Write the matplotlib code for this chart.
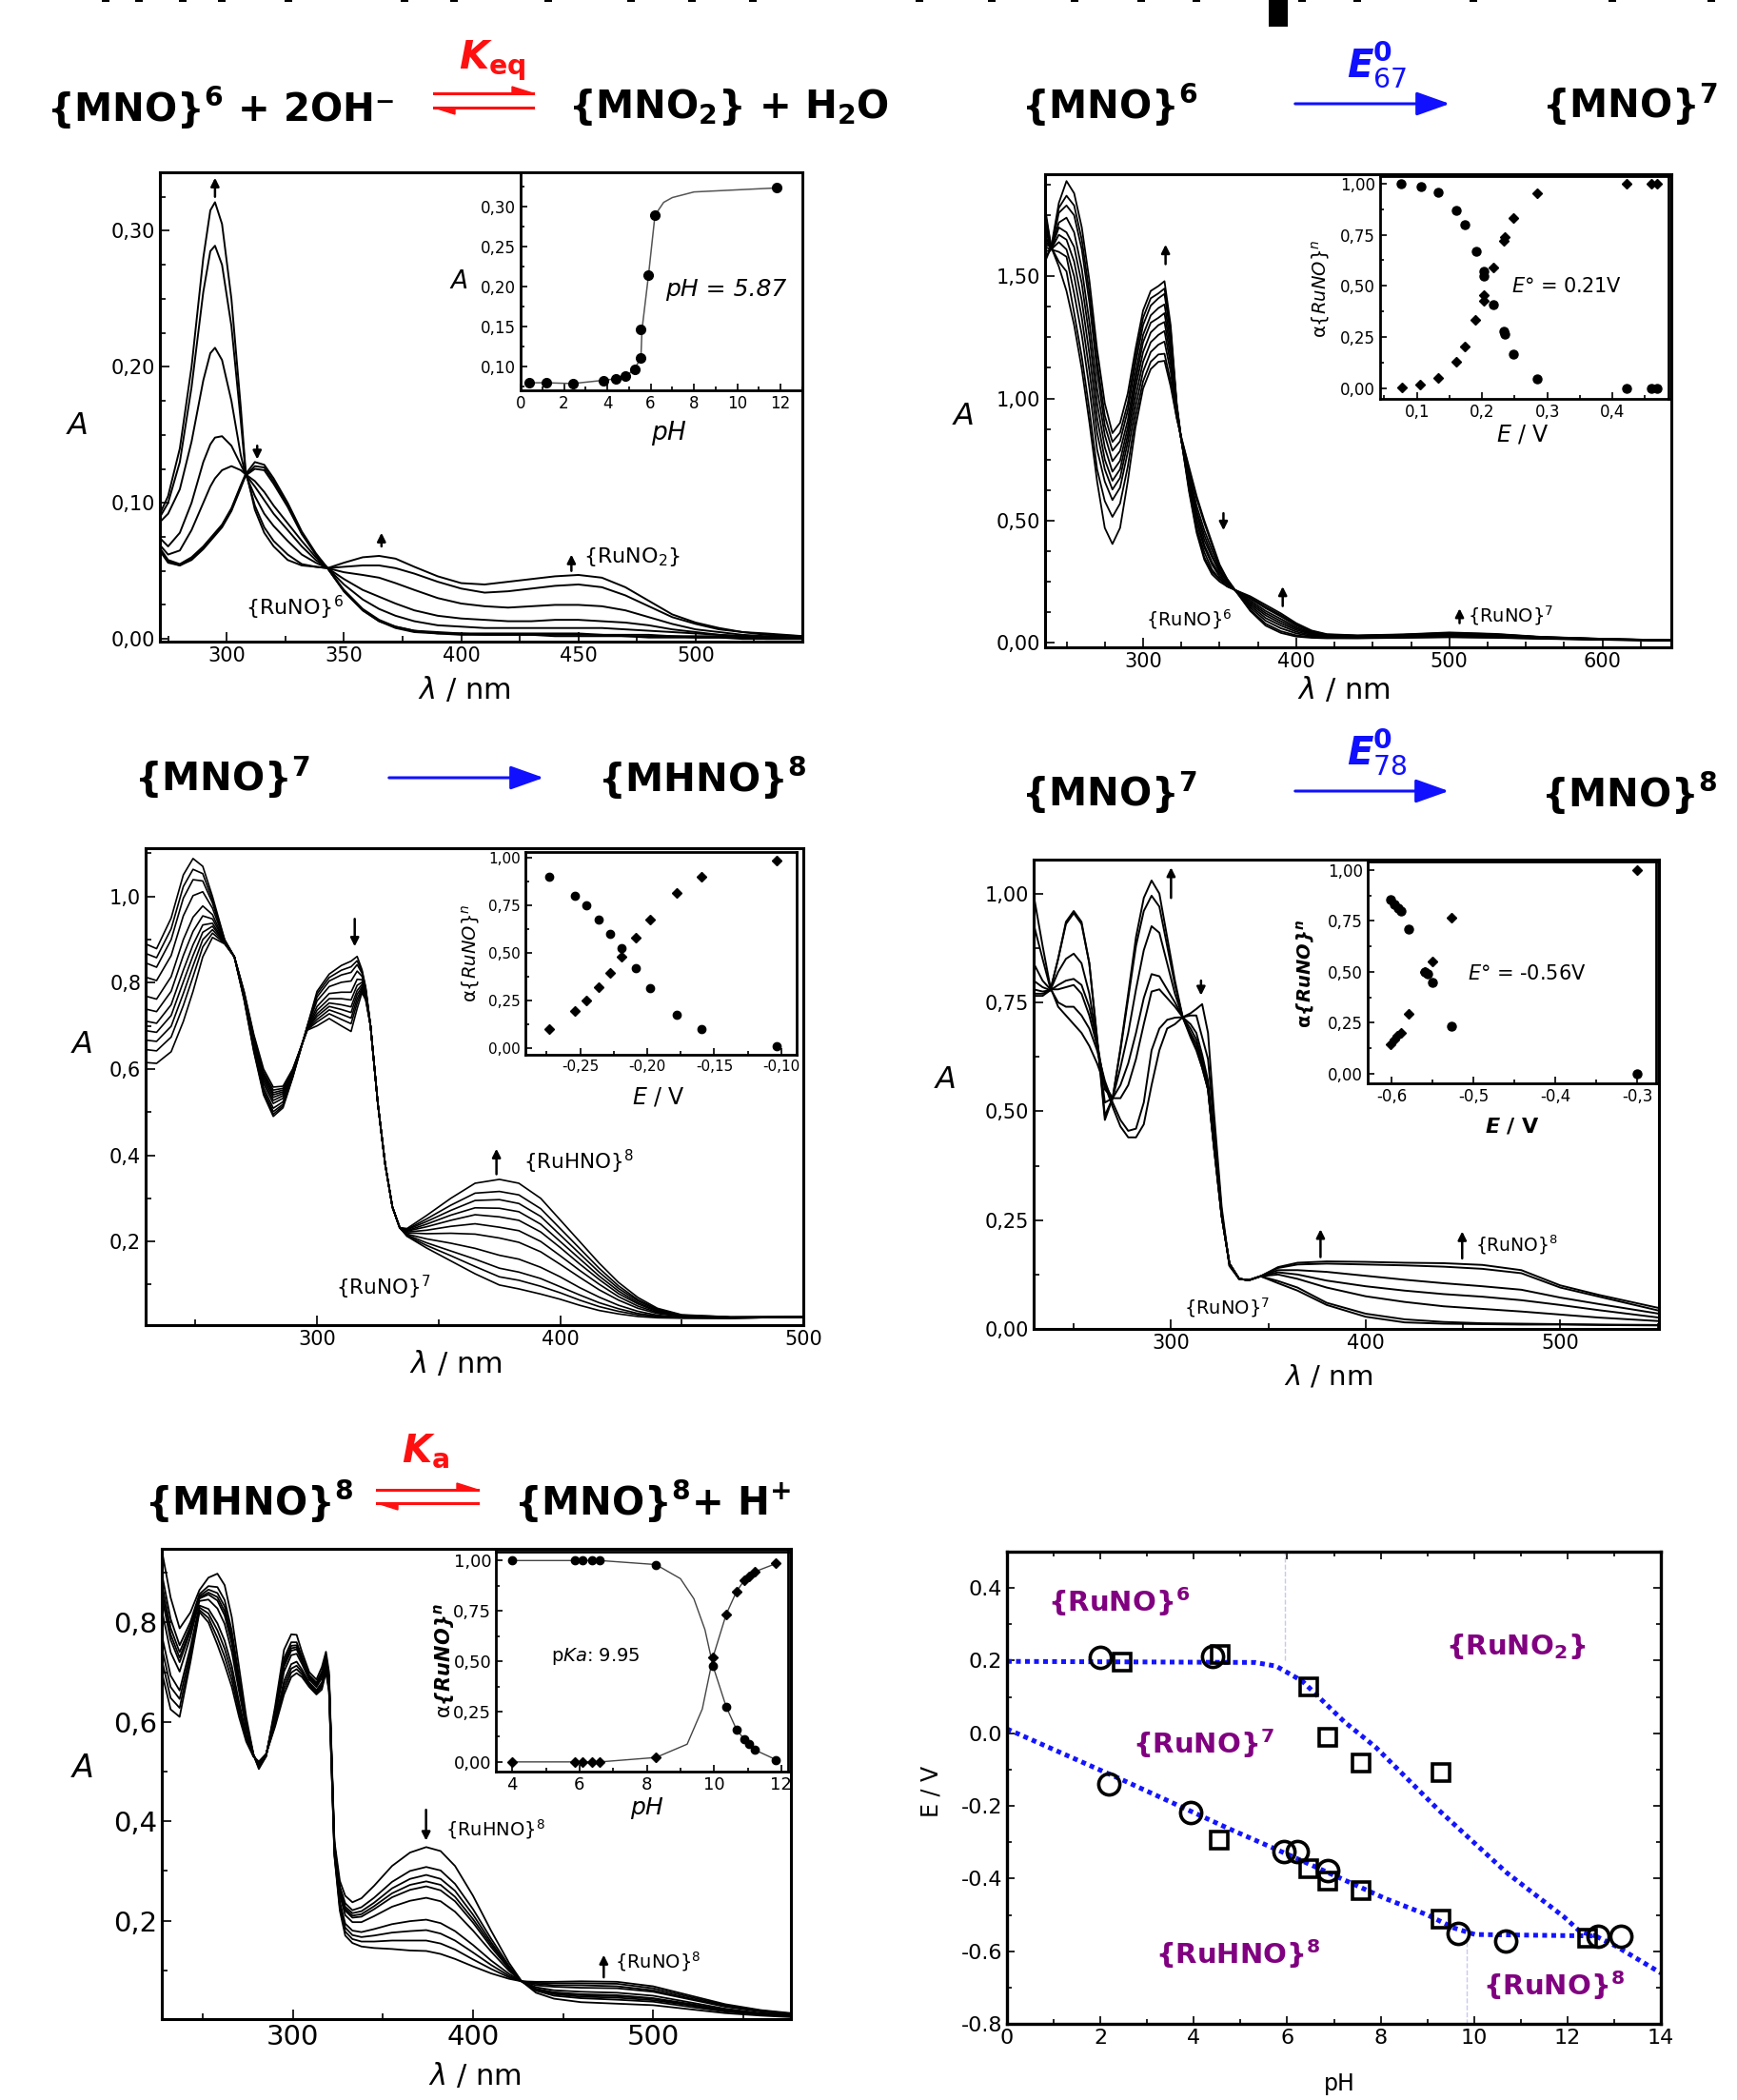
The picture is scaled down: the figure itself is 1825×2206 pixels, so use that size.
import numpy as np
import matplotlib
matplotlib.use("Agg")
import matplotlib.pyplot as plt
from matplotlib.ticker import MultipleLocator, FuncFormatter
from matplotlib.patches import Polygon, Rectangle, FancyArrowPatch
from matplotlib.lines import Line2D

plt.rcParams.update({
    "font.family": "DejaVu Sans",
    "mathtext.fontset": "custom",
    "mathtext.rm": "DejaVu Sans",
    "mathtext.it": "DejaVu Sans:italic",
    "mathtext.bf": "DejaVu Sans:bold",
    "mathtext.bfit": "DejaVu Sans:italic:bold",
    "axes.unicode_minus": False,
})

# ---------------- panel 1: {MNO}6 -> {MNO2} (pH titration) ----------------
wl_1 = [271, 275, 280, 285, 290, 293, 295, 298, 302, 306, 308, 312, 316, 320, 326, 332, 338, 343,
        350, 358, 365, 372, 380, 390, 400, 410, 420, 430, 440, 450, 460, 470, 480, 490, 500, 510,
        520, 530, 546]
# one row per wavelength, one column per spectrum
abs_1 = [
    [.090, .088, .085, .075, .070, .068, .067, .066],
    [.105, .100, .092, .068, .062, .058, .057, .056],
    [.140, .130, .110, .078, .065, .055, .054, .054],
    [.200, .185, .145, .100, .080, .060, .059, .058],
    [.280, .255, .190, .130, .100, .068, .067, .066],
    [.315, .285, .210, .143, .112, .074, .073, .072],
    [.321, .289, .214, .148, .118, .078, .077, .076],
    [.305, .275, .205, .149, .124, .084, .083, .082],
    [.250, .230, .175, .142, .127, .096, .095, .094],
    [.170, .160, .135, .128, .124, .113, .112, .111],
    [.125, .123, .121, .121, .121, .121, .120, .120],
    [.095, .098, .105, .112, .116, .130, .127, .125],
    [.078, .082, .092, .102, .108, .128, .126, .124],
    [.068, .072, .083, .092, .098, .118, .116, .114],
    [.058, .062, .072, .080, .085, .100, .098, .097],
    [.054, .055, .062, .068, .072, .079, .078, .077],
    [.053, .053, .056, .058, .060, .063, .062, .062],
    [.052, .052, .052, .052, .052, .052, .052, .052],
    [.056, .053, .049, .044, .040, .036, .035, .035],
    [.060, .054, .047, .036, .029, .022, .021, .021],
    [.061, .054, .045, .031, .022, .014, .013, .013],
    [.059, .052, .041, .026, .017, .009, .009, .008],
    [.053, .048, .036, .021, .013, .006, .006, .005],
    [.046, .042, .030, .017, .010, .005, .004, .004],
    [.041, .037, .026, .015, .009, .004, .004, .003],
    [.040, .034, .024, .014, .008, .004, .003, .003],
    [.042, .035, .023, .013, .008, .004, .003, .003],
    [.044, .037, .024, .013, .008, .004, .003, .003],
    [.046, .039, .025, .014, .008, .004, .003, .002],
    [.047, .040, .025, .014, .008, .004, .003, .002],
    [.045, .038, .024, .013, .008, .003, .003, .002],
    [.038, .032, .021, .012, .007, .003, .002, .002],
    [.028, .024, .016, .010, .006, .003, .002, .001],
    [.018, .016, .011, .007, .005, .002, .002, .001],
    [.012, .011, .007, .005, .004, .002, .001, .001],
    [.008, .007, .005, .003, .003, .002, .001, .001],
    [.005, .005, .003, .002, .002, .001, .001, .000],
    [.004, .003, .002, .001, .001, .001, .000, .000],
    [.002, .002, .001, .001, .001, .000, .000, .000],
]
ph_pts_1 = [0.4, 1.2, 2.4, 3.8, 4.4, 4.85, 5.25, 5.55, 5.55, 5.9, 6.2, 11.8]
a_pts_1 = [0.080, 0.080, 0.079, 0.083, 0.085, 0.088, 0.097, 0.111, 0.146, 0.214, 0.289, 0.323]
ph_fit_1 = [0.4, 1.2, 2.4, 3.8, 4.4, 4.85, 5.25, 5.55, 5.6, 5.9, 6.2, 6.6, 7.0, 8.0, 11.8]
a_fit_1 = [0.080, 0.080, 0.079, 0.083, 0.085, 0.088, 0.097, 0.111, 0.146, 0.214, 0.289, 0.305, 0.311, 0.318, 0.323]

# ---------------- panel 2: {MNO}6 -> {MNO}7 (potential) ----------------
wl_2 = [236, 240, 245, 250, 255, 260, 265, 270, 275, 280, 285, 290, 295, 300, 305, 310, 314, 318,
        322, 325, 330, 335, 340, 345, 350, 355, 360, 370, 380, 390, 400, 410, 420, 440, 470, 500,
        530, 560, 600, 645]
abs_2 = [
    [1.78, 1.76, 1.73, 1.70, 1.67, 1.65, 1.62, 1.60, 1.58, 1.56],
    [1.62, 1.62, 1.61, 1.61, 1.61, 1.61, 1.61, 1.61, 1.61, 1.62],
    [1.54, 1.56, 1.60, 1.64, 1.67, 1.70, 1.72, 1.76, 1.78, 1.80],
    [1.44, 1.52, 1.58, 1.61, 1.65, 1.68, 1.74, 1.79, 1.83, 1.89],
    [1.30, 1.35, 1.43, 1.50, 1.56, 1.62, 1.68, 1.75, 1.79, 1.84],
    [1.12, 1.17, 1.26, 1.33, 1.40, 1.47, 1.53, 1.61, 1.65, 1.70],
    [0.90, 0.95, 1.04, 1.11, 1.18, 1.25, 1.31, 1.39, 1.43, 1.48],
    [0.66, 0.71, 0.79, 0.86, 0.92, 0.98, 1.04, 1.11, 1.15, 1.20],
    [0.47, 0.58, 0.66, 0.71, 0.75, 0.80, 0.85, 0.89, 0.93, 0.98],
    [0.404, 0.515, 0.584, 0.627, 0.663, 0.70, 0.743, 0.786, 0.822, 0.858],
    [0.47, 0.57, 0.635, 0.675, 0.71, 0.745, 0.785, 0.825, 0.86, 0.90],
    [0.66, 0.72, 0.78, 0.82, 0.85, 0.88, 0.91, 0.95, 0.98, 1.02],
    [0.88, 0.92, 0.96, 1.00, 1.04, 1.07, 1.10, 1.14, 1.17, 1.20],
    [1.04, 1.07, 1.11, 1.15, 1.19, 1.23, 1.26, 1.30, 1.33, 1.36],
    [1.12, 1.15, 1.19, 1.23, 1.27, 1.31, 1.34, 1.38, 1.41, 1.44],
    [1.15, 1.18, 1.22, 1.26, 1.30, 1.33, 1.37, 1.41, 1.43, 1.46],
    [1.154, 1.183, 1.233, 1.276, 1.313, 1.349, 1.385, 1.428, 1.45, 1.48],
    [1.05, 1.07, 1.11, 1.14, 1.17, 1.20, 1.23, 1.26, 1.28, 1.30],
    [0.92, 0.92, 0.93, 0.94, 0.94, 0.95, 0.96, 0.97, 0.97, 0.98],
    [0.84, 0.84, 0.83, 0.83, 0.83, 0.83, 0.83, 0.83, 0.83, 0.83],
    [0.72, 0.71, 0.70, 0.68, 0.67, 0.66, 0.65, 0.64, 0.63, 0.62],
    [0.60, 0.59, 0.56, 0.54, 0.53, 0.51, 0.49, 0.47, 0.46, 0.45],
    [0.50, 0.49, 0.46, 0.44, 0.42, 0.40, 0.39, 0.37, 0.35, 0.34],
    [0.41, 0.40, 0.38, 0.36, 0.35, 0.33, 0.32, 0.30, 0.29, 0.28],
    [0.32, 0.31, 0.30, 0.29, 0.29, 0.28, 0.27, 0.26, 0.26, 0.25],
    [0.26, 0.26, 0.25, 0.25, 0.25, 0.24, 0.24, 0.24, 0.23, 0.23],
    [0.216, 0.216, 0.216, 0.216, 0.216, 0.216, 0.216, 0.216, 0.216, 0.216],
    [0.13, 0.135, 0.144, 0.152, 0.159, 0.166, 0.173, 0.18, 0.185, 0.19],
    [0.07, 0.078, 0.09, 0.101, 0.112, 0.121, 0.13, 0.141, 0.147, 0.155],
    [0.04, 0.047, 0.059, 0.07, 0.079, 0.088, 0.097, 0.107, 0.113, 0.12],
    [0.025, 0.03, 0.038, 0.045, 0.052, 0.058, 0.064, 0.071, 0.075, 0.08],
    [0.02, 0.023, 0.027, 0.031, 0.035, 0.038, 0.041, 0.045, 0.047, 0.05],
    [0.018, 0.02, 0.022, 0.024, 0.026, 0.028, 0.03, 0.032, 0.033, 0.035],
    [0.018, 0.019, 0.021, 0.022, 0.024, 0.025, 0.026, 0.028, 0.029, 0.03],
    [0.02, 0.021, 0.023, 0.025, 0.027, 0.028, 0.03, 0.032, 0.033, 0.034],
    [0.022, 0.024, 0.027, 0.029, 0.032, 0.034, 0.036, 0.039, 0.04, 0.042],
    [0.02, 0.021, 0.024, 0.026, 0.028, 0.03, 0.031, 0.033, 0.035, 0.036],
    [0.016, 0.017, 0.018, 0.019, 0.02, 0.021, 0.022, 0.023, 0.023, 0.024],
    [0.012, 0.012, 0.013, 0.013, 0.014, 0.014, 0.015, 0.015, 0.016, 0.016],
    [0.008, 0.008, 0.009, 0.009, 0.009, 0.009, 0.01, 0.01, 0.01, 0.01],
]
e_circ_2 = [0.076, 0.106, 0.133, 0.161, 0.174, 0.191, 0.202, 0.203, 0.217, 0.234, 0.235, 0.248, 0.284, 0.422, 0.460, 0.468]
f_circ_2 = [1.00, 0.987, 0.955, 0.870, 0.801, 0.668, 0.573, 0.548, 0.409, 0.280, 0.262, 0.168, 0.047, 0.0, 0.0, 0.0]
e_diam_2 = [0.077, 0.105, 0.132, 0.161, 0.174, 0.190, 0.202, 0.203, 0.218, 0.234, 0.235, 0.248, 0.284, 0.422, 0.460, 0.468]
f_diam_2 = [0.003, 0.017, 0.052, 0.130, 0.202, 0.332, 0.427, 0.453, 0.591, 0.720, 0.739, 0.833, 0.950, 1.0, 1.0, 1.0]

# ---------------- panel 3: {MNO}7 -> {MHNO}8 ----------------
wl_3 = [229.5, 234, 240, 245, 249, 253, 257, 262, 266, 270, 274, 278, 282, 286, 290, 296, 300, 305,
        310, 314, 316.5, 318.5, 320, 322, 325, 328, 331, 334, 337, 345, 355, 365, 375, 383, 392,
        400, 408, 416, 424, 432, 440, 450, 470, 500]
abs_3 = [
    [0.89, 0.868, 0.846, 0.813, 0.769, 0.739, 0.711, 0.689, 0.667, 0.645, 0.615],
    [0.879, 0.858, 0.836, 0.805, 0.762, 0.733, 0.706, 0.685, 0.664, 0.642, 0.613],
    [0.95, 0.925, 0.90, 0.863, 0.814, 0.78, 0.749, 0.724, 0.699, 0.674, 0.64],
    [1.05, 1.023, 0.996, 0.955, 0.90, 0.863, 0.829, 0.802, 0.775, 0.747, 0.71],
    [1.088, 1.063, 1.039, 1.002, 0.952, 0.919, 0.888, 0.863, 0.839, 0.814, 0.78],
    [1.07, 1.053, 1.036, 1.011, 0.978, 0.955, 0.934, 0.917, 0.90, 0.883, 0.86],
    [1.00, 0.992, 0.985, 0.973, 0.958, 0.948, 0.938, 0.931, 0.923, 0.915, 0.905],
    [0.90, 0.899, 0.898, 0.897, 0.896, 0.895, 0.894, 0.893, 0.892, 0.891, 0.89],
    [0.86, 0.86, 0.86, 0.86, 0.86, 0.86, 0.86, 0.86, 0.86, 0.86, 0.86],
    [0.76, 0.762, 0.763, 0.766, 0.769, 0.771, 0.773, 0.775, 0.776, 0.778, 0.78],
    [0.64, 0.643, 0.646, 0.651, 0.658, 0.662, 0.666, 0.669, 0.672, 0.676, 0.68],
    [0.54, 0.545, 0.55, 0.557, 0.566, 0.573, 0.579, 0.584, 0.589, 0.593, 0.60],
    [0.49, 0.495, 0.501, 0.509, 0.52, 0.527, 0.534, 0.54, 0.545, 0.551, 0.558],
    [0.51, 0.514, 0.518, 0.524, 0.532, 0.538, 0.543, 0.547, 0.551, 0.555, 0.56],
    [0.58, 0.582, 0.583, 0.586, 0.589, 0.591, 0.593, 0.595, 0.596, 0.598, 0.60],
    [0.70, 0.699, 0.698, 0.697, 0.696, 0.695, 0.694, 0.693, 0.692, 0.691, 0.69],
    [0.78, 0.774, 0.767, 0.758, 0.745, 0.736, 0.728, 0.722, 0.715, 0.709, 0.70],
    [0.82, 0.812, 0.804, 0.791, 0.775, 0.763, 0.753, 0.745, 0.737, 0.728, 0.717],
    [0.84, 0.829, 0.818, 0.801, 0.778, 0.763, 0.749, 0.738, 0.727, 0.715, 0.70],
    [0.85, 0.837, 0.824, 0.804, 0.778, 0.76, 0.744, 0.731, 0.718, 0.705, 0.687],
    [0.861, 0.851, 0.842, 0.827, 0.808, 0.794, 0.782, 0.773, 0.763, 0.753, 0.74],
    [0.83, 0.826, 0.822, 0.815, 0.807, 0.801, 0.796, 0.791, 0.787, 0.783, 0.777],
    [0.79, 0.788, 0.785, 0.782, 0.777, 0.774, 0.771, 0.768, 0.766, 0.763, 0.76],
    [0.70, 0.70, 0.70, 0.70, 0.70, 0.70, 0.70, 0.70, 0.70, 0.70, 0.70],
    [0.52, 0.52, 0.52, 0.52, 0.52, 0.52, 0.52, 0.52, 0.52, 0.52, 0.52],
    [0.38, 0.38, 0.38, 0.38, 0.38, 0.38, 0.38, 0.38, 0.38, 0.38, 0.38],
    [0.28, 0.28, 0.28, 0.28, 0.28, 0.28, 0.28, 0.28, 0.28, 0.28, 0.28],
    [0.232, 0.232, 0.232, 0.232, 0.232, 0.232, 0.232, 0.232, 0.232, 0.232, 0.232],
    [0.212, 0.213, 0.215, 0.217, 0.22, 0.222, 0.224, 0.225, 0.227, 0.228, 0.23],
    [0.185, 0.191, 0.197, 0.206, 0.218, 0.226, 0.234, 0.24, 0.246, 0.252, 0.26],
    [0.155, 0.167, 0.178, 0.196, 0.219, 0.235, 0.249, 0.261, 0.272, 0.284, 0.30],
    [0.125, 0.142, 0.159, 0.184, 0.217, 0.241, 0.262, 0.278, 0.295, 0.312, 0.335],
    [0.099, 0.118, 0.138, 0.168, 0.208, 0.233, 0.257, 0.277, 0.297, 0.316, 0.344],
    [0.09, 0.11, 0.129, 0.159, 0.198, 0.225, 0.249, 0.269, 0.288, 0.308, 0.335],
    [0.078, 0.096, 0.114, 0.14, 0.176, 0.2, 0.222, 0.24, 0.258, 0.276, 0.30],
    [0.066, 0.081, 0.095, 0.118, 0.147, 0.167, 0.186, 0.2, 0.215, 0.23, 0.25],
    [0.052, 0.064, 0.076, 0.093, 0.117, 0.133, 0.148, 0.16, 0.172, 0.184, 0.20],
    [0.04, 0.049, 0.058, 0.071, 0.088, 0.101, 0.112, 0.12, 0.129, 0.138, 0.15],
    [0.032, 0.038, 0.044, 0.052, 0.064, 0.072, 0.079, 0.085, 0.091, 0.097, 0.105],
    [0.026, 0.03, 0.033, 0.038, 0.045, 0.05, 0.055, 0.058, 0.062, 0.065, 0.07],
    [0.023, 0.025, 0.027, 0.029, 0.033, 0.035, 0.037, 0.039, 0.041, 0.043, 0.045],
    [0.022, 0.023, 0.023, 0.024, 0.026, 0.026, 0.027, 0.028, 0.028, 0.029, 0.03],
    [0.022, 0.022, 0.022, 0.023, 0.023, 0.024, 0.024, 0.024, 0.024, 0.025, 0.025],
    [0.025, 0.025, 0.025, 0.025, 0.025, 0.025, 0.025, 0.025, 0.025, 0.025, 0.025],
]
e_pts_3 = [-0.2732, -0.2541, -0.2455, -0.2361, -0.228, -0.2194, -0.2088, -0.1978, -0.1783, -0.1595, -0.1033]
f_circ_3 = [0.898, 0.802, 0.751, 0.673, 0.601, 0.523, 0.419, 0.318, 0.178, 0.100, 0.011]
f_diam_3 = [0.100, 0.196, 0.249, 0.323, 0.394, 0.479, 0.579, 0.677, 0.817, 0.898, 0.984]

# ---------------- panel 4: {MNO}7 -> {MNO}8 ----------------
wl_4 = [229.4, 234, 238, 242, 246, 250, 254, 258, 262, 266, 270, 274, 278, 282, 286, 290, 294, 298,
        302, 306, 310, 313, 316, 319, 322, 326, 330, 335, 340, 346, 355, 365, 380, 400, 420, 440,
        460, 480, 500, 520, 550.7]
abs_4 = [
    [0.997, 0.93, 0.84, 0.80, 0.78, 0.77, 0.765],
    [0.88, 0.85, 0.80, 0.785, 0.775, 0.77, 0.765],
    [0.785, 0.782, 0.78, 0.778, 0.778, 0.778, 0.778],
    [0.74, 0.75, 0.78, 0.79, 0.82, 0.85, 0.85],
    [0.72, 0.74, 0.785, 0.80, 0.85, 0.93, 0.935],
    [0.70, 0.74, 0.79, 0.804, 0.862, 0.955, 0.96],
    [0.68, 0.72, 0.77, 0.79, 0.84, 0.93, 0.935],
    [0.65, 0.69, 0.72, 0.74, 0.77, 0.84, 0.84],
    [0.61, 0.64, 0.65, 0.66, 0.66, 0.67, 0.665],
    [0.56, 0.57, 0.56, 0.55, 0.52, 0.49, 0.48],
    [0.51, 0.52, 0.53, 0.53, 0.53, 0.53, 0.53],
    [0.465, 0.48, 0.53, 0.56, 0.60, 0.64, 0.645],
    [0.44, 0.455, 0.56, 0.61, 0.68, 0.76, 0.77],
    [0.44, 0.46, 0.62, 0.68, 0.78, 0.88, 0.90],
    [0.47, 0.52, 0.70, 0.76, 0.87, 0.96, 0.99],
    [0.56, 0.64, 0.775, 0.815, 0.925, 0.995, 1.03],
    [0.64, 0.69, 0.78, 0.81, 0.91, 0.97, 1.00],
    [0.69, 0.71, 0.76, 0.78, 0.84, 0.88, 0.90],
    [0.70, 0.715, 0.74, 0.75, 0.77, 0.79, 0.80],
    [0.716, 0.716, 0.716, 0.716, 0.716, 0.716, 0.716],
    [0.725, 0.72, 0.70, 0.69, 0.68, 0.675, 0.67],
    [0.735, 0.72, 0.68, 0.665, 0.655, 0.645, 0.64],
    [0.746, 0.67, 0.63, 0.62, 0.61, 0.60, 0.60],
    [0.68, 0.62, 0.57, 0.56, 0.55, 0.55, 0.55],
    [0.50, 0.47, 0.44, 0.43, 0.42, 0.42, 0.42],
    [0.28, 0.27, 0.26, 0.26, 0.26, 0.26, 0.26],
    [0.145, 0.145, 0.15, 0.15, 0.15, 0.15, 0.15],
    [0.115, 0.115, 0.115, 0.115, 0.115, 0.115, 0.115],
    [0.112, 0.112, 0.112, 0.112, 0.112, 0.112, 0.112],
    [0.121, 0.121, 0.121, 0.121, 0.121, 0.121, 0.121],
    [0.105, 0.11, 0.125, 0.13, 0.135, 0.14, 0.142],
    [0.088, 0.095, 0.115, 0.125, 0.135, 0.148, 0.152],
    [0.055, 0.06, 0.095, 0.111, 0.131, 0.15, 0.155],
    [0.028, 0.035, 0.075, 0.098, 0.122, 0.148, 0.154],
    [0.015, 0.022, 0.062, 0.088, 0.113, 0.146, 0.152],
    [0.012, 0.016, 0.052, 0.08, 0.105, 0.143, 0.151],
    [0.011, 0.013, 0.046, 0.074, 0.098, 0.138, 0.147],
    [0.01, 0.012, 0.04, 0.066, 0.09, 0.128, 0.135],
    [0.01, 0.011, 0.033, 0.055, 0.072, 0.095, 0.10],
    [0.009, 0.01, 0.026, 0.043, 0.057, 0.074, 0.078],
    [0.008, 0.009, 0.018, 0.026, 0.035, 0.042, 0.048],
]
e_circ_4 = [-0.601, -0.597, -0.592, -0.588, -0.579, -0.559, -0.556, -0.550, -0.527, -0.300]
f_circ_4 = [0.854, 0.833, 0.812, 0.798, 0.708, 0.50, 0.49, 0.448, 0.235, 0.0]
e_diam_4 = [-0.601, -0.597, -0.593, -0.588, -0.579, -0.559, -0.550, -0.527, -0.300]
f_diam_4 = [0.146, 0.167, 0.188, 0.202, 0.292, 0.50, 0.552, 0.765, 1.0]

# ---------------- panel 5: {MHNO}8 -> {MNO}8 (pKa) ----------------
wl_5 = [227.1, 232, 237, 243, 248, 253, 258, 262, 266, 270, 274, 278, 281, 285, 290, 295, 299, 302,
        305, 309, 313, 316, 318.3, 320, 323, 326, 329, 333, 338, 345, 355, 365, 374, 382, 390, 400,
        410, 420, 427, 435, 445, 460, 480, 500, 520, 540, 560, 576.6]
abs_5 = [
    [0.945, 0.898, 0.879, 0.864, 0.852, 0.825, 0.774, 0.749, 0.725, 0.70],
    [0.85, 0.807, 0.789, 0.776, 0.765, 0.74, 0.693, 0.67, 0.648, 0.625],
    [0.788, 0.754, 0.74, 0.729, 0.72, 0.701, 0.663, 0.646, 0.628, 0.61],
    [0.82, 0.801, 0.793, 0.787, 0.782, 0.771, 0.75, 0.74, 0.73, 0.72],
    [0.865, 0.857, 0.853, 0.85, 0.848, 0.843, 0.834, 0.83, 0.825, 0.821],
    [0.89, 0.873, 0.866, 0.86, 0.856, 0.846, 0.827, 0.818, 0.809, 0.80],
    [0.898, 0.871, 0.859, 0.851, 0.844, 0.828, 0.798, 0.784, 0.769, 0.755],
    [0.875, 0.845, 0.832, 0.822, 0.814, 0.797, 0.763, 0.747, 0.731, 0.715],
    [0.81, 0.783, 0.772, 0.764, 0.757, 0.741, 0.712, 0.698, 0.684, 0.67],
    [0.71, 0.691, 0.683, 0.677, 0.672, 0.661, 0.64, 0.63, 0.62, 0.61],
    [0.61, 0.60, 0.597, 0.594, 0.591, 0.586, 0.575, 0.57, 0.565, 0.56],
    [0.535, 0.534, 0.534, 0.533, 0.533, 0.533, 0.532, 0.531, 0.531, 0.53],
    [0.505, 0.508, 0.509, 0.51, 0.511, 0.512, 0.516, 0.517, 0.519, 0.52],
    [0.53, 0.531, 0.531, 0.532, 0.532, 0.532, 0.534, 0.534, 0.535, 0.535],
    [0.63, 0.622, 0.619, 0.617, 0.615, 0.61, 0.602, 0.598, 0.594, 0.59],
    [0.745, 0.728, 0.721, 0.715, 0.711, 0.701, 0.682, 0.673, 0.664, 0.655],
    [0.776, 0.76, 0.753, 0.748, 0.743, 0.734, 0.716, 0.707, 0.699, 0.69],
    [0.775, 0.76, 0.754, 0.75, 0.746, 0.737, 0.721, 0.713, 0.706, 0.698],
    [0.74, 0.731, 0.727, 0.724, 0.721, 0.716, 0.705, 0.70, 0.695, 0.69],
    [0.70, 0.694, 0.692, 0.69, 0.689, 0.685, 0.679, 0.676, 0.673, 0.67],
    [0.685, 0.679, 0.677, 0.675, 0.674, 0.67, 0.664, 0.661, 0.658, 0.655],
    [0.71, 0.701, 0.698, 0.695, 0.693, 0.688, 0.679, 0.674, 0.67, 0.665],
    [0.741, 0.733, 0.73, 0.727, 0.725, 0.721, 0.712, 0.708, 0.704, 0.70],
    [0.70, 0.692, 0.689, 0.687, 0.685, 0.68, 0.672, 0.668, 0.664, 0.66],
    [0.36, 0.354, 0.352, 0.35, 0.349, 0.345, 0.339, 0.336, 0.333, 0.33],
    [0.28, 0.269, 0.264, 0.26, 0.257, 0.251, 0.238, 0.232, 0.226, 0.22],
    [0.25, 0.235, 0.228, 0.224, 0.22, 0.211, 0.194, 0.186, 0.178, 0.17],
    [0.237, 0.221, 0.215, 0.21, 0.206, 0.197, 0.18, 0.171, 0.163, 0.155],
    [0.245, 0.227, 0.219, 0.213, 0.208, 0.197, 0.177, 0.167, 0.158, 0.148],
    [0.27, 0.246, 0.236, 0.229, 0.223, 0.209, 0.183, 0.17, 0.158, 0.145],
    [0.31, 0.278, 0.265, 0.255, 0.247, 0.228, 0.193, 0.176, 0.16, 0.143],
    [0.337, 0.30, 0.284, 0.272, 0.262, 0.24, 0.199, 0.179, 0.16, 0.14],
    [0.348, 0.308, 0.292, 0.279, 0.269, 0.246, 0.202, 0.181, 0.16, 0.139],
    [0.34, 0.301, 0.284, 0.272, 0.261, 0.239, 0.195, 0.174, 0.154, 0.133],
    [0.31, 0.274, 0.26, 0.248, 0.239, 0.218, 0.179, 0.16, 0.142, 0.123],
    [0.25, 0.223, 0.212, 0.203, 0.196, 0.18, 0.151, 0.136, 0.122, 0.108],
    [0.18, 0.164, 0.157, 0.152, 0.147, 0.138, 0.12, 0.111, 0.103, 0.094],
    [0.115, 0.109, 0.106, 0.104, 0.103, 0.099, 0.093, 0.089, 0.086, 0.083],
    [0.078, 0.078, 0.078, 0.078, 0.078, 0.078, 0.078, 0.078, 0.078, 0.078],
    [0.055, 0.059, 0.061, 0.062, 0.063, 0.066, 0.07, 0.073, 0.075, 0.077],
    [0.043, 0.049, 0.052, 0.054, 0.056, 0.06, 0.067, 0.07, 0.074, 0.077],
    [0.036, 0.044, 0.047, 0.05, 0.052, 0.057, 0.065, 0.07, 0.074, 0.078],
    [0.033, 0.041, 0.045, 0.048, 0.05, 0.055, 0.064, 0.068, 0.073, 0.077],
    [0.03, 0.037, 0.04, 0.043, 0.044, 0.049, 0.057, 0.06, 0.064, 0.068],
    [0.022, 0.027, 0.03, 0.031, 0.033, 0.036, 0.042, 0.044, 0.047, 0.05],
    [0.014, 0.017, 0.019, 0.02, 0.021, 0.023, 0.027, 0.028, 0.03, 0.032],
    [0.009, 0.011, 0.012, 0.013, 0.013, 0.014, 0.017, 0.018, 0.019, 0.02],
    [0.006, 0.008, 0.008, 0.009, 0.009, 0.01, 0.012, 0.012, 0.013, 0.014],
]
ph_pts_5 = [4.0, 5.87, 6.1, 6.37, 6.61, 8.27, 9.97, 10.36, 10.67, 10.89, 11.03, 11.22, 11.84]
f_circ_5 = [1.0, 1.0, 1.0, 1.0, 1.0, 0.98, 0.475, 0.274, 0.16, 0.114, 0.088, 0.059, 0.011]
f_diam_5 = [0.0, 0.0, 0.0, 0.0, 0.0, 0.022, 0.521, 0.733, 0.847, 0.90, 0.923, 0.945, 0.985]
ph_fit_c5 = [4.0, 5.87, 6.1, 6.37, 6.61, 8.27, 9.0, 9.4, 9.73, 9.97, 10.36, 10.67, 10.89, 11.03, 11.22, 11.84]
f_fit_c5 = [1.0, 1.0, 1.0, 1.0, 1.0, 0.98, 0.91, 0.81, 0.656, 0.475, 0.274, 0.16, 0.114, 0.088, 0.059, 0.011]
ph_fit_d5 = [4.0, 5.87, 6.1, 6.37, 6.61, 8.27, 9.2, 9.65, 9.97, 10.36, 10.67, 10.89, 11.03, 11.22, 11.84]
f_fit_d5 = [0.0, 0.0, 0.0, 0.0, 0.0, 0.022, 0.088, 0.263, 0.521, 0.733, 0.847, 0.90, 0.923, 0.945, 0.985]

# ---------------- panel 6: Pourbaix diagram ----------------
ph_circ_6 = [1.99, 4.40, 2.19, 3.93, 5.93, 6.21, 6.87, 9.65, 10.67, 12.66, 13.15]
e_circ_6 = [0.208, 0.213, -0.139, -0.218, -0.325, -0.325, -0.378, -0.55, -0.573, -0.56, -0.56]
ph_sq_6 = [2.46, 4.57, 6.45, 6.87, 7.58, 9.30, 4.55, 6.45, 6.87, 7.58, 9.30, 12.43]
e_sq_6 = [0.197, 0.218, 0.129, -0.010, -0.082, -0.107, -0.294, -0.374, -0.406, -0.432, -0.511, -0.564]
ph_line_up = [0.0, 5.31, 5.76, 6.32, 7.22, 7.9, 9.24, 10.7, 11.93, 12.27, 12.6]
e_line_up = [0.198, 0.195, 0.185, 0.144, 0.032, -0.039, -0.211, -0.384, -0.506, -0.546, -0.558]
ph_line_lo = [0.0, 2.5, 4.74, 6.09, 8.1, 9.0, 9.57, 10.02, 12.6, 13.05, 14.0]
e_line_lo = [0.012, -0.13, -0.262, -0.338, -0.455, -0.50, -0.536, -0.554, -0.558, -0.587, -0.66]

# ======================================================================
W, H = 1825, 2206
fig = plt.figure(figsize=(W / 100, H / 100), dpi=100)


def px_axes(l, t, r, b):
    return fig.add_axes([l / W, 1 - b / H, (r - l) / W, (b - t) / H])


def fp(x, y):
    return (x / W, 1 - y / H)


def comma(dec):
    return FuncFormatter(lambda v, p: f"{v:.{dec}f}".replace(".", ","))


def dot(dec):
    return FuncFormatter(lambda v, p: f"{v:.{dec}f}")


def style(ax, xlim, ylim, xt, yt, xfmt, yfmt, size, spine=2.2, tlen=7, sides=False):
    ax.set_xlim(*xlim)
    ax.set_ylim(*ylim)
    ax.xaxis.set_major_locator(MultipleLocator(xt[0]))
    ax.xaxis.set_minor_locator(MultipleLocator(xt[1]))
    ax.yaxis.set_major_locator(MultipleLocator(yt[0]))
    ax.yaxis.set_minor_locator(MultipleLocator(yt[1]))
    ax.xaxis.set_major_formatter(xfmt)
    ax.yaxis.set_major_formatter(yfmt)
    ax.tick_params(which="both", direction="in", labelsize=size, width=1.4,
                   top=sides, right=sides, color="#222222")
    ax.tick_params(which="major", length=tlen)
    ax.tick_params(which="minor", length=tlen * 0.6)
    for s in ax.spines.values():
        s.set_linewidth(spine)


def labels(ax, xl, xpos, yl, ypos, xsize, ysize, yrot=0, **kw):
    ax.set_xlabel(xl, fontsize=xsize, va="center", ha="center", **kw)
    ax.xaxis.set_label_coords(*xpos)
    ax.set_ylabel(yl, fontsize=ysize, rotation=yrot, va="center", ha="center", **kw)
    ax.yaxis.set_label_coords(*ypos)


def spectra(ax, wl, table, lw=1.3):
    arr = np.array(table)
    for k in range(arr.shape[1]):
        ax.plot(wl, arr[:, k], color="black", lw=lw)


def mark(ax, x, y0, y1):
    ax.annotate("", xy=(x, y1), xytext=(x, y0),
                arrowprops=dict(arrowstyle="-|>", lw=1.8, color="black",
                                mutation_scale=13, shrinkA=0, shrinkB=0))


def header(x, y, s, color="black", size=29):
    fig.text(*fp(x, y), s, fontsize=size, fontweight="bold", color=color,
             ha="left", va="center")


def blue_arrow(x0, x1, y):
    fig.add_artist(FancyArrowPatch(fp(x0, y), fp(x1, y), transform=fig.transFigure,
                                   arrowstyle="-|>,head_length=0.9,head_width=0.32",
                                   mutation_scale=24, lw=2.2, color="#1010ff"))


def eq_arrows(x0, x1, y_top, y_bot):
    red = "#ff1010"
    for y in (y_top, y_bot):
        fig.add_artist(Line2D([x0 / W, x1 / W], [1 - y / H, 1 - y / H],
                              transform=fig.transFigure, color=red, lw=2.2))
    fig.add_artist(Polygon([fp(x1, y_top), fp(x1 - 22, y_top - 7), fp(x1 - 22, y_top)],
                           closed=True, transform=fig.transFigure, color=red))
    fig.add_artist(Polygon([fp(x0, y_bot), fp(x0 + 22, y_bot + 7), fp(x0 + 22, y_bot)],
                           closed=True, transform=fig.transFigure, color=red))


# ---- cut-off text remnants at the very top ----
for xd in [111, 146, 192, 233, 303, 425, 477, 576, 663, 727, 791, 966, 1042, 1129, 1199,
           1257, 1368, 1426, 1548, 1694, 1798]:
    fig.add_artist(Rectangle(fp(xd - 4, 2), 8 / W, 2 / H, transform=fig.transFigure,
                             color="black", lw=0))
fig.add_artist(Rectangle(fp(1333, 28), 20 / W, 28 / H, transform=fig.transFigure,
                         color="black", lw=0))

# ---- reaction headers ----
header(49, 113, r"{MNO}$^{\mathbf{6}}$ + 2OH⁻")
header(597, 113, r"{MNO$_{\mathbf{2}}$} + H$_{\mathbf{2}}$O")
eq_arrows(456, 560, 98, 113)
fig.text(*fp(517, 64), r"$\mathbfit{K}_{\mathbf{eq}}$", fontsize=29, color="#ff1010",
         ha="center", va="center")

header(1073, 110, r"{MNO}$^{\mathbf{6}}$")
header(1620, 110, r"{MNO}$^{\mathbf{7}}$")
blue_arrow(1358, 1526, 109)
fig.text(*fp(1447, 68), r"$\mathbfit{E}^{\mathbf{0}}_{\mathrm{67}}$", fontsize=29,
         color="#1010ff", ha="center", va="center")

header(141, 817, r"{MNO}$^{\mathbf{7}}$")
header(628, 817, r"{MHNO}$^{\mathbf{8}}$")
blue_arrow(406, 574, 817)

header(1073, 833, r"{MNO}$^{\mathbf{7}}$")
header(1619, 833, r"{MNO}$^{\mathbf{8}}$")
blue_arrow(1358, 1525, 831)
fig.text(*fp(1447, 790), r"$\mathbfit{E}^{\mathbf{0}}_{\mathrm{78}}$", fontsize=29,
         color="#1010ff", ha="center", va="center")

header(152, 1577, r"{MHNO}$^{\mathbf{8}}$")
header(540, 1577, r"{MNO}$^{\mathbf{8}}$+ H$^{\mathbf{+}}$")
eq_arrows(396, 502, 1565, 1579)
fig.text(*fp(447, 1524), r"$\mathbfit{K}_{\mathbf{a}}$", fontsize=29, color="#ff1010",
         ha="center", va="center")

lam = r"$\lambda$ / nm"

# ---- panel 1 ----
ax = px_axes(168, 181, 843, 674)
spectra(ax, wl_1, abs_1, lw=1.4)
style(ax, (271.5, 545.5), (-0.002, 0.343), (50, 25), (0.1, 0.025), dot(0), comma(2), 15)
labels(ax, lam, (0.474, -0.103), "$A$", (-0.13, 0.46), 22, 23)
mark(ax, 295, 0.325, 0.339)
mark(ax, 313, 0.142, 0.132)
mark(ax, 366, 0.068, 0.078)
mark(ax, 447, 0.050, 0.062)
ax.text(452, 0.060, r"{RuNO$_2$}", fontsize=16, ha="left", va="center")
ax.text(308, 0.023, r"{RuNO}$^6$", fontsize=16, ha="left", va="center")

ins = px_axes(547, 181, 843, 410)
ins.plot(ph_fit_1, a_fit_1, color="#555555", lw=1.1)
ins.plot(ph_pts_1, a_pts_1, "o", color="black", ms=7)
style(ins, (0, 13), (0.0706, 0.3425), (2, 1), (0.05, 0.025), dot(0), comma(2), 12,
      spine=2.0, tlen=5)
labels(ins, "$pH$", (0.527, -0.197), "$A$", (-0.22, 0.498), 19, 19)
ins.text(6.7, 0.196, "pH = 5.87", fontsize=18, fontstyle="italic", ha="left", va="center")

# ---- panel 2 ----
ax = px_axes(1098, 183, 1756, 680)
spectra(ax, wl_2, abs_2, lw=1.3)
style(ax, (236, 645), (-0.019, 1.918), (100, 25), (0.5, 0.125), dot(0), comma(2), 15)
labels(ax, lam, (0.477, -0.09), "$A$", (-0.131, 0.488), 22, 23)
mark(ax, 314.7, 1.55, 1.63)
mark(ax, 352.5, 0.53, 0.46)
mark(ax, 391.2, 0.15, 0.23)
mark(ax, 506.7, 0.08, 0.14)
ax.text(512, 0.11, r"{RuNO}$^7$", fontsize=14, ha="left", va="center")
ax.text(330, 0.094, r"{RuNO}$^6$", fontsize=14, ha="center", va="center")

ins = px_axes(1450, 185, 1753, 419)
ins.plot(e_circ_2, f_circ_2, "o", color="black", ms=6.5)
ins.plot(e_diam_2, f_diam_2, "D", color="black", ms=5.5)
style(ins, (0.0435, 0.486), (-0.052, 1.036), (0.1, 0.05), (0.25, 0.125), comma(1), comma(2), 12,
      spine=2.0, tlen=5)
labels(ins, r"$E$ / V", (0.495, -0.162), r"α$\{RuNO\}^n$", (-0.205, 0.496), 17, 14, yrot=90)
ins.text(0.245, 0.496, r"$E$° = 0.21V", fontsize=15, ha="left", va="center")

# ---- panel 3 ----
ax = px_axes(153, 891, 844, 1392)
spectra(ax, wl_3, abs_3, lw=1.2)
style(ax, (229.5, 500), (0.006, 1.112), (100, 50), (0.2, 0.1), dot(0), comma(1), 15)
labels(ax, lam, (0.472, -0.08), "$A$", (-0.097, 0.588), 22, 23)
mark(ax, 315.5, 0.948, 0.884)
mark(ax, 373.8, 0.356, 0.415)
ax.text(385, 0.385, r"{RuHNO}$^8$", fontsize=15.5, ha="left", va="center")
ax.text(307.6, 0.094, r"{RuNO}$^7$", fontsize=15.5, ha="left", va="center")

ins = px_axes(552, 895, 837, 1108)
ins.plot(e_pts_3, f_circ_3, "o", color="black", ms=6)
ins.plot(e_pts_3, f_diam_3, "D", color="black", ms=5)
style(ins, (-0.2908, -0.0886), (-0.033, 1.029), (0.05, 0.025), (0.25, 0.125), comma(2), comma(2),
      11, spine=2.0, tlen=5)
labels(ins, r"$E$ / V", (0.491, -0.211), r"α$\{RuNO\}^n$", (-0.2, 0.502), 17, 14, yrot=90)

# ---- panel 4 ----
ax = px_axes(1086, 903, 1743, 1396)
spectra(ax, wl_4, abs_4, lw=1.4)
style(ax, (229.4, 550.7), (0.0, 1.078), (100, 50), (0.25, 0.125), dot(0), comma(2), 15)
labels(ax, lam, (0.472, -0.103), "$A$", (-0.142, 0.531), 21, 23)
mark(ax, 300, 0.99, 1.06)
mark(ax, 315.4, 0.80, 0.766)
mark(ax, 376.8, 0.165, 0.229)
mark(ax, 449.6, 0.162, 0.224)
ax.text(456.3, 0.194, r"{RuNO}$^8$", fontsize=13.5, ha="left", va="center")
ax.text(306.7, 0.048, r"{RuNO}$^7$", fontsize=14, ha="left", va="center")

ins = px_axes(1437, 905, 1740, 1138)
ins.plot(e_circ_4, f_circ_4, "o", color="black", ms=6.5)
ins.plot(e_diam_4, f_diam_4, "D", color="black", ms=5.5)
style(ins, (-0.629, -0.277), (-0.048, 1.042), (0.1, 0.05), (0.25, 0.125), comma(1), comma(2), 12,
      spine=2.0, tlen=5)
labels(ins, r"$\mathbfit{E}$ / V", (0.502, -0.195),
       r"α$\mathbfit{\{RuNO\}}^{\mathbfit{n}}$", (-0.215, 0.495), 16, 14, yrot=90,
       fontweight="bold")
ins.text(-0.507, 0.49, r"$E$° = -0.56V", fontsize=15, ha="left", va="center")

# ---- panel 5 ----
ax = px_axes(170, 1627, 831, 2121)
spectra(ax, wl_5, abs_5, lw=1.3)
style(ax, (227.1, 576.6), (0.002, 0.948), (100, 50), (0.2, 0.1), dot(0), comma(1), 21)
labels(ax, lam, (0.498, -0.121), "$A$", (-0.127, 0.534), 22, 24)
mark(ax, 373.9, 0.423, 0.361)
mark(ax, 472.6, 0.086, 0.131)
ax.text(384.5, 0.383, r"{RuHNO}$^8$", fontsize=14, ha="left", va="center")
ax.text(478.7, 0.117, r"{RuNO}$^8$", fontsize=14, ha="left", va="center")

ins = px_axes(521, 1630, 828, 1861)
ins.plot(ph_fit_c5, f_fit_c5, color="#444444", lw=1.0)
ins.plot(ph_fit_d5, f_fit_d5, color="#444444", lw=1.0)
ins.plot(ph_pts_5, f_circ_5, "o", color="black", ms=6)
ins.plot(ph_pts_5, f_diam_5, "D", color="black", ms=5)
style(ins, (3.513, 12.2), (-0.048, 1.044), (2, 1), (0.25, 0.125), dot(0), comma(2), 13,
      spine=2.0, tlen=5)
labels(ins, "$pH$", (0.518, -0.165), r"α$\mathbfit{\{RuNO\}}^{\mathbfit{n}}$", (-0.175, 0.506),
       18, 15, yrot=90)
ins.text(6.48, 0.525, r"p$Ka$: 9.95", fontsize=14, ha="center", va="center")

# ---- panel 6 ----
ax = px_axes(1058, 1630, 1745, 2126)
purple = "#800080"
ax.plot([5.95, 5.95], [0.2, 0.5], color="#c8c8ee", lw=1, ls="--")
ax.plot([9.85, 9.85], [-0.8, -0.56], color="#c8c8ee", lw=1, ls="--")
ax.plot(ph_line_up, e_line_up, color="#1414ff", lw=3.6, ls=(0, (1.0, 0.9)))
ax.plot(ph_line_lo, e_line_lo, color="#1414ff", lw=3.6, ls=(0, (1.0, 0.9)))
ax.plot(ph_circ_6, e_circ_6, "o", mfc="none", mec="black", mew=2.6, ms=16)
ax.plot(ph_sq_6, e_sq_6, "s", mfc="none", mec="black", mew=2.6, ms=13)
style(ax, (0, 14), (-0.8, 0.5), (2, 1), (0.2, 0.1), dot(0), dot(1), 16, spine=2.4, tlen=6,
      sides=True)
labels(ax, "pH", (0.508, -0.128), "E / V", (-0.115, 0.492), 17, 17, yrot=90)
ax.text(2.4, 0.362, r"{RuNO}$^{\mathbf{6}}$", fontsize=21, fontweight="bold", color=purple,
        ha="center", va="center")
ax.text(10.9, 0.24, r"{RuNO$_{\mathbf{2}}$}", fontsize=21, fontweight="bold", color=purple,
        ha="center", va="center")
ax.text(4.2, -0.028, r"{RuNO}$^{\mathbf{7}}$", fontsize=21, fontweight="bold", color=purple,
        ha="center", va="center")
ax.text(4.95, -0.607, r"{RuHNO}$^{\mathbf{8}}$", fontsize=21, fontweight="bold", color=purple,
        ha="center", va="center")
ax.text(11.7, -0.693, r"{RuNO}$^{\mathbf{8}}$", fontsize=21, fontweight="bold", color=purple,
        ha="center", va="center")

fig.savefig("out.png", dpi=100, facecolor="white")
